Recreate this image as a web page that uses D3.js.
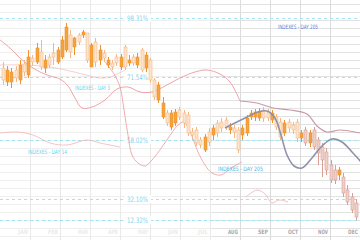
<!DOCTYPE html>
<html>
<head>
<meta charset="utf-8">
<script src="https://cdn.jsdelivr.net/npm/d3@7"></script>
<style>
  html, body { margin: 0; padding: 0; background: #fff; }
  svg { display: block; }
  text { font-family: "DejaVu Sans Condensed", "Liberation Sans", sans-serif; }
</style>
</head>
<body>
<div id="chart"></div>
<script>
/* ── data ─────────────────────────────────────────────── */

// [open, high, low, close]
const candles = [
  [80, 89, 77.5, 86], [85, 87, 77, 79], [84, 86, 76, 79], [81, 87, 79, 85],
  [87.5, 90, 78, 80], [84, 90, 82, 88], [91.5, 95, 81, 82.5], [89, 92.5, 87, 91],
  [96, 98.5, 88, 89], [86.5, 100, 85, 94], [90, 92.5, 83.5, 86], [87.5, 93, 86, 91.5],
  [91.5, 98.5, 87.5, 93.5], [95, 96.5, 88, 89], [100, 102, 90.5, 91.5], [106.5, 108.5, 94, 95],
  [94, 105, 91, 102.5], [101, 101.5, 92.5, 96.5], [99, 103.5, 97.5, 102.5], [104, 105, 101, 102.5],
  [90, 103.5, 88.5, 103.5], [97.5, 98.5, 86.5, 86.5], [89, 101, 86.5, 99], [95, 97.5, 87.5, 90],
  [91, 95, 89, 93.5], [90, 91.5, 86, 87.5], [86.5, 90, 85, 88.5], [88.5, 93, 87, 91.5],
  [91.5, 93, 85, 86.5], [86.5, 97.5, 85, 96.5], [90, 92.5, 87, 88.5], [88.5, 93, 87, 91.5],
  [91.5, 93.5, 86, 87.5], [85, 96, 84, 95], [92.5, 94, 84, 86], [80, 91, 78.5, 90],
  [71.5, 81, 70, 80], [77.5, 79, 68.5, 70], [68.5, 71.5, 60.5, 61.5], [58.5, 65, 57, 63.5],
  [63.5, 65, 55, 56.5], [64, 65.5, 57, 58.5], [61.5, 66.5, 60, 65], [58.5, 65, 56, 63.5],
  [53.5, 64, 52, 62.5], [52.5, 56, 50, 54], [48.5, 56.5, 47, 55], [47.5, 51.5, 46, 50],
  [51.5, 53, 44, 45], [49, 56, 47, 54], [56, 57.5, 50, 52.5], [53.5, 60, 51.5, 58.5],
  [56, 61, 54, 59], [56.5, 61.5, 55, 60], [56.5, 58.5, 53, 55], [54, 57.5, 51, 56],
  [45, 56.5, 43.5, 55], [56, 57.5, 50, 52.5], [61, 62.5, 52, 53.5], [63.5, 65, 60, 61.5],
  [64, 65.5, 59.5, 61.5], [64, 66, 59.5, 61], [61, 66.5, 59, 65], [61, 65.5, 59.5, 64],
  [63.5, 65, 58.5, 60], [56.5, 63, 55, 61.5], [51.5, 61, 50, 59], [58.5, 60, 52, 53.5],
  [56, 60.5, 54, 59], [55, 59, 53, 57.5], [51, 60.5, 49, 59], [53.5, 55, 49, 51],
  [48.5, 56.5, 47, 55], [53.5, 55, 46.5, 48.5], [46.5, 56.5, 45, 55], [43.5, 51.5, 37.5, 50],
  [40, 48.5, 31.5, 46.5], [35, 46, 32.5, 44], [30, 40, 28.5, 37.5], [30, 37.5, 28, 35],
  [35, 36.5, 30, 32.5], [23.5, 33.5, 21.5, 31.5], [19, 27.5, 17.5, 25], [15, 23.5, 13.5, 21.5],
  [11.5, 20.5, 10, 18.5]
];

// index lines: [day, level]
const day3Line = [
  [-0.71, 100], [1.67, 96], [4.05, 91], [6.43, 87], [8.81, 84], [11.19, 82], [13.57, 80.5],
  [15.48, 77], [17.14, 71], [18.81, 66], [21.19, 66.5], [24.29, 70], [27.14, 75.5],
  [29.76, 76.5], [32.62, 74], [35.48, 74], [38.57, 77], [42.14, 81], [45.71, 84],
  [48.57, 85], [51.67, 83], [54.05, 79], [56.43, 69.5]
];
const upperBand = [
  [56.43, 69.5], [60.48, 68.5], [64.29, 66], [68.33, 65], [72.38, 63], [74.76, 57],
  [77.14, 54], [80.24, 55], [85, 53.5]
];
const softLine = [
  [-0.71, 87.5], [5.24, 87.5], [11.19, 86.5], [15.95, 84.5], [20.71, 82], [23.1, 81],
  [25.48, 81.5], [29.05, 85]
];
const day14Line = [
  [-0.71, 53.5], [3.33, 54], [7.14, 52.5], [11.19, 48.5], [15.24, 47.5], [20, 50],
  [23.1, 48.5], [27.86, 46.5]
];
const swingLine = [
  [24.29, 89], [26.43, 83], [27.86, 76.5], [28.81, 65], [29.76, 52.5], [30.71, 42.5],
  [32.14, 38.5], [33.81, 37], [35.48, 40], [37.86, 46.5], [40, 53], [41.67, 57.5],
  [43.1, 59], [44.76, 53], [46.43, 44], [48.1, 37.5], [49.76, 33.5], [51.9, 32.5],
  [54.29, 36], [56.9, 39]
];
const wiggleLine = [
  [57.86, 21.5], [60.48, 25], [62.38, 23], [64.05, 18.5], [65.71, 20], [67.86, 19]
];
const day205Line = [
  [52.86, 56], [57.62, 61], [60.71, 64], [62.86, 64.5], [64.76, 61], [66.19, 52.5],
  [67.62, 42.5], [69.29, 37], [71.19, 36], [73.57, 41], [75.95, 47], [78.33, 50.5],
  [80.71, 49], [83.1, 44], [85.48, 38.5]
];

const levelValues = [111, 81.5, 50, 20.5, 10];
const levelLabels = ['98.31%', '71.54%', '58.02%', '32.10%', '12.32%'];

const months = ['JAN','FEB','MAR','APR','MAY','JUN','JUL','AUG','SEP','OCT','NOV','DEC'];
const firstLiveMonth = 7;

/* ── layout ───────────────────────────────────────────── */

const W = 360, H = 240;
const shadeStart = 212;   // striped area on the right
const mutedFrom = 72;     // candles drawn in the muted tone

const svg = d3.select('#chart').append('svg')
  .attr('width', W).attr('height', H);

svg.append('rect').attr('width', W).attr('height', H).attr('fill', '#ffffff');

const y = d3.scaleLinear().domain([0, 120]).range([H, 0]);

const xBand = d3.scaleBand()
  .domain(d3.range(candles.length))
  .range([0.9, 357.9])
  .paddingInner(0.3)
  .paddingOuter(0.15);
const bw = xBand.bandwidth();
const cx = i => xBand(i) + bw / 2;

const xDay = d3.scaleLinear().domain([0, candles.length - 1]).range([cx(0), cx(candles.length - 1)]);
const xMonth = d3.scaleLinear().domain([0, 12]).range([0, W]);

/* ── grid ─────────────────────────────────────────────── */

const gridVals = d3.range(2, 120, 4);

svg.append('g')
  .selectAll('line')
  .data(gridVals)
  .join('line')
  .attr('x1', 0).attr('x2', shadeStart)
  .attr('y1', d => y(d) + 0.5).attr('y2', d => y(d) + 0.5)
  .attr('stroke', '#efefef');

svg.append('g')
  .selectAll('line')
  .data(gridVals)
  .join('line')
  .attr('x1', shadeStart).attr('x2', W)
  .attr('y1', d => y(d) + 0.5).attr('y2', d => y(d) + 0.5)
  .attr('stroke', '#e2e2e4');

svg.append('g')
  .selectAll('line')
  .data(d3.range(1, 12))
  .join('line')
  .attr('x1', d => Math.round(xMonth(d)) + 0.5)
  .attr('x2', d => Math.round(xMonth(d)) + 0.5)
  .attr('y1', 0).attr('y2', H)
  .attr('stroke', d => xMonth(d) > shadeStart ? '#dcdcde' : '#e9e9e9');

/* ── level lines ──────────────────────────────────────── */

svg.append('g')
  .selectAll('line')
  .data(levelValues)
  .join('line')
  .attr('x1', 0).attr('x2', W)
  .attr('y1', d => Math.round(y(d)) + 0.5).attr('y2', d => Math.round(y(d)) + 0.5)
  .attr('stroke', '#a6e2ef')
  .attr('stroke-width', 1)
  .attr('stroke-dasharray', '3,3');

const lvl = svg.append('g')
  .selectAll('g')
  .data(levelValues)
  .join('g')
  .attr('transform', d => `translate(127,${Math.round(y(d))})`);

lvl.append('rect')
  .attr('x', -2).attr('y', -4).attr('width', 26).attr('height', 8)
  .attr('fill', '#ffffff');

lvl.append('text')
  .attr('y', 2.6)
  .attr('font-size', 7.5)
  .attr('fill', '#86d3ea')
  .attr('textLength', 21)
  .attr('lengthAdjust', 'spacingAndGlyphs')
  .text((d, i) => levelLabels[i]);

/* ── month labels ─────────────────────────────────────── */

svg.append('g')
  .selectAll('text')
  .data(months)
  .join('text')
  .attr('x', (d, i) => xMonth(i + 1) - 2)
  .attr('y', 234)
  .attr('text-anchor', 'end')
  .attr('font-size', 6)
  .attr('font-weight', 'bold')
  .attr('fill', (d, i) => i >= firstLiveMonth ? '#a9a9ad' : '#ebebeb')
  .attr('textLength', 10)
  .attr('lengthAdjust', 'spacingAndGlyphs')
  .text(d => d);

/* ── index lines ──────────────────────────────────────── */

const line = d3.line()
  .x(d => xDay(d[0]))
  .y(d => y(d[1]))
  .curve(d3.curveCatmullRom.alpha(0.5));

function drawLine(data, color, width, opacity) {
  svg.append('path')
    .datum(data)
    .attr('d', line)
    .attr('fill', 'none')
    .attr('stroke', color)
    .attr('stroke-width', width)
    .attr('stroke-opacity', opacity);
}

drawLine(day14Line, '#f2b4b8', 1, 0.8);
drawLine(softLine, '#f4b8bc', 1, 0.7);
drawLine(swingLine, '#ee9ea4', 1, 0.85);
drawLine(wiggleLine, '#f0b0b0', 1, 0.8);
drawLine(day3Line, '#ec9aa0', 1, 0.9);
drawLine(upperBand, '#c58f9e', 1.2, 0.9);

/* ── candles ──────────────────────────────────────────── */

const cg = svg.append('g')
  .selectAll('g')
  .data(candles)
  .join('g');

const solid = d => d[3] < d[0];
const tone = (d, i) => {
  if (i >= mutedFrom) return solid(d) ? ['#f0a04a', '#e48f3a'] : ['#efd0c8', '#d99e94'];
  return solid(d) ? ['#f6a33c', '#ee922c'] : ['#fce4cc', '#f3b886'];
};

cg.append('line')
  .attr('x1', (d, i) => Math.round(cx(i)) + 0.5)
  .attr('x2', (d, i) => Math.round(cx(i)) + 0.5)
  .attr('y1', d => y(d[1]))
  .attr('y2', d => y(d[2]))
  .attr('stroke', (d, i) => tone(d, i)[1])
  .attr('stroke-width', 1);

cg.append('rect')
  .attr('x', (d, i) => Math.round(cx(i)) - 1)
  .attr('y', d => y(Math.max(d[0], d[3])))
  .attr('width', 3)
  .attr('height', d => Math.max(1, Math.abs(y(d[0]) - y(d[3]))))
  .attr('fill', (d, i) => tone(d, i)[0])
  .attr('stroke', (d, i) => tone(d, i)[1])
  .attr('stroke-width', 0.6);

drawLine(day205Line, '#8a8ca6', 1.6, 0.95);

/* ── annotations ──────────────────────────────────────── */

const notes = [
  { text: 'INDEXES - DAY 3',   x: 75,  y: 90,  len: 35, color: '#5fd6ee' },
  { text: 'INDEXES - DAY 14',  x: 28,  y: 154, len: 39, color: '#5fd6ee' },
  { text: 'INDEXES - DAY 205', x: 218, y: 171, len: 45, color: '#4bb8e6' },
  { text: 'INDEXES - DAY 205', x: 278, y: 29,  len: 40, color: '#5a7fd4' }
];

svg.append('g')
  .selectAll('text')
  .data(notes)
  .join('text')
  .attr('x', d => d.x)
  .attr('y', d => d.y)
  .attr('font-size', 6)
  .attr('fill', d => d.color)
  .attr('textLength', d => d.len)
  .attr('lengthAdjust', 'spacingAndGlyphs')
  .text(d => d.text);
</script>
</body>
</html>
